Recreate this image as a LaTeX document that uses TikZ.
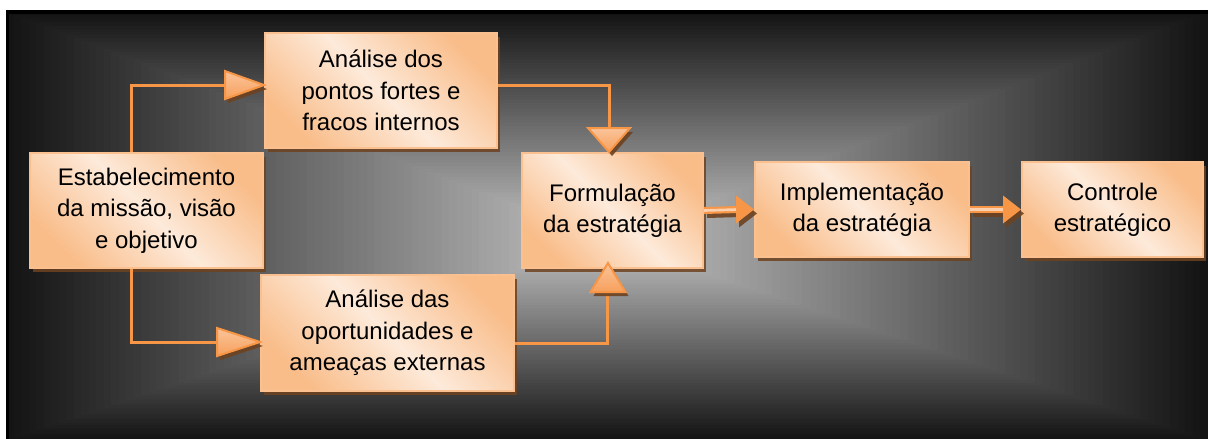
\documentclass[tikz,border=0pt]{standalone}
\usepackage{fontspec}
\setmainfont{Liberation Sans}
\usetikzlibrary{shadows}
\definecolor{lineor}{HTML}{F79646}
\definecolor{boxlight}{HTML}{FDEADA}
\definecolor{boxdark}{HTML}{F9BD8A}
\definecolor{boxborder}{HTML}{FAC08F}
\definecolor{shadowbr}{HTML}{6E4220}
\definecolor{tiptop}{HTML}{FAC49A}
\definecolor{tipbot}{HTML}{F7A05C}
\definecolor{shaftlight}{HTML}{FBD0AE}
\tikzset{
  box/.style={draw=boxborder, line width=1.5pt, top color=boxdark, bottom color=boxdark,
    middle color=boxlight, shading angle=-45, align=center, inner sep=0pt,
    font=\fontsize{18}{23.5}\selectfont,
    drop shadow={shadow xshift=2.5pt, shadow yshift=-3pt, fill=shadowbr, opacity=0.85}},
  conn/.style={draw=lineor, line width=2.25pt},
  tipfill/.style={draw=lineor, line width=1.5pt, top color=tiptop, bottom color=tipbot, line join=miter},
  tipshadow/.style={fill=shadowbr, opacity=0.9},
}
\newcommand\bigtip[4]{%
  \begin{scope}[shift={#1}]
    \begin{scope}[shift={(3,4)}, rotate=#2]
      \fill[tipshadow] (0,0) -- (-#3,-#4/2) -- (-#3,#4/2) -- cycle;
    \end{scope}
    \begin{scope}[rotate=#2]
      \path[tipfill] (0,0) -- (-#3,-#4/2) -- (-#3,#4/2) -- cycle;
    \end{scope}
  \end{scope}}
\newcommand\smalltip[3]{%
  \begin{scope}[shift={#1}]
    \fill[tipshadow] (3,4) -- (3-#2,4-#3/2) -- (3-#2,4+#3/2) -- cycle;
    \fill[lineor] (0,0) -- (-#2,-#3/2) -- (-#2,#3/2) -- cycle;
  \end{scope}}
\begin{document}
\begin{tikzpicture}[x=0.75pt, y=-0.75pt]
\useasboundingbox (0,0) rectangle (1208,439);
% background
\fill[black] (6,10) rectangle (1208,439);
\begin{scope}
  \clip (9,14) rectangle (1208,439);
  \foreach \i [evaluate=\i as \t using 1-\i/80, evaluate=\i as \v using int(20+178*\i/80)] in {0,...,80}{
    \definecolor{bgc}{RGB}{\v,\v,\v}
    \fill[bgc] (607-601*\t, 240-228*\t) rectangle (607+601*\t, 240+200*\t);
  }
\end{scope}
% boxes
\node[box, minimum width=233*0.75pt, minimum height=115*0.75pt] (estab) at (146.5,210.5) {Estabelecimento\\da missão, visão\\e objetivo};
\node[box, minimum width=232*0.75pt, minimum height=115*0.75pt] (ana1) at (381,90.5) {Análise dos\\pontos fortes e\\fracos internos};
\node[box, minimum width=253*0.75pt, minimum height=116*0.75pt] (ana2) at (387.5,333) {Análise das\\oportunidades e\\ameaças externas};
\node[box, minimum width=181*0.75pt, minimum height=115*0.75pt] (form) at (612.5,210.5) {Formulação\\da estratégia};
\node[box, minimum width=214*0.75pt, minimum height=95*0.75pt] (impl) at (862,209.5) {Implementação\\da estratégia};
\node[box, minimum width=181*0.75pt, minimum height=95*0.75pt] (ctrl) at (1112.5,209.5) {Controle\\estratégico};
% tip coordinates
\coordinate (t1) at ([yshift=4.1pt]ana1.west);
\coordinate (t2) at ([yshift=-6.75pt]ana2.west);
\coordinate (t3) at ([xshift=-2.6pt]form.north);
\coordinate (t4) at ([xshift=-3.4pt, yshift=4.5pt]form.south);
% connectors
\draw[conn] ([xshift=-10.9pt]estab.north) |- ([xshift=-30pt]t1);
\bigtip{(t1)}{0}{39}{28}
\draw[conn] ([xshift=-10.9pt]estab.south) |- ([xshift=-30pt]t2);
\bigtip{(t2)}{0}{43}{28}
\draw[conn] ([yshift=4.1pt]ana1.east) -| ([yshift=15pt]t3);
\bigtip{(t3)}{-90}{24}{42}
\draw[conn] ([yshift=-7.5pt]ana2.east) -| ([yshift=-18pt]t4);
\bigtip{(t4)}{90}{29}{35}
% thick arrows
\foreach \a/\b in {form/impl, impl/ctrl}{
  \draw[shadowbr, opacity=0.9, line width=5.25pt] ([xshift=2.25pt, yshift=-3pt]\a.east) -- ([xshift=-10pt, yshift=-3pt]\b.west);
  \draw[lineor, line width=5.25pt] (\a.east) -- ([xshift=-12pt]\b.west);
  \draw[shaftlight, line width=2pt] (\a.east) -- ([xshift=-12pt]\b.west);
  \smalltip{(\b.west)}{18}{28}
}
\end{tikzpicture}
\end{document}
